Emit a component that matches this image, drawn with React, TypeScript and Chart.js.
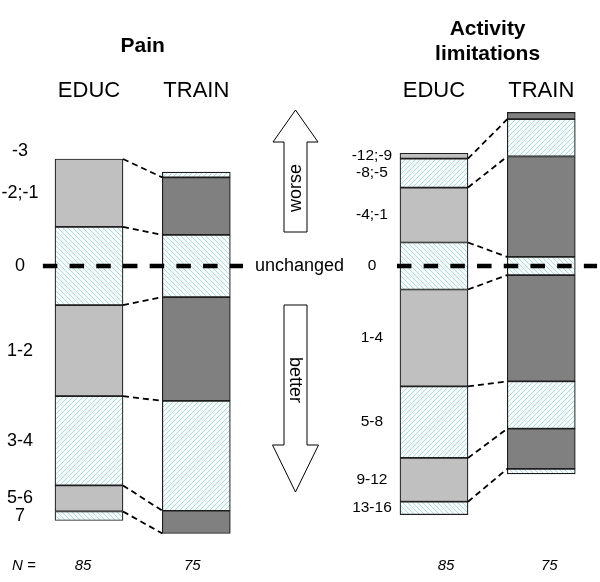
import React, { useEffect, useRef } from 'react';
import { Chart, registerables } from 'chart.js';

Chart.register(...registerables);

// ---------- data (percent of each group) ----------
const painCategories = ['-3', '-2;-1', '0', '1-2', '3-4', '5-6', '7'];
const painEducPct = [0, 18.8, 21.6, 25.2, 24.7, 7.2, 2.5];
const painTrainPct = [1.5, 15.9, 17.2, 28.7, 30.4, 6.3, 0];

const activityCategories = ['-12;-9', '-8;-5', '-4;-1', '0', '1-4', '5-8', '9-12', '13-16'];
const activityEducPct = [1.5, 8.0, 15.2, 13.0, 26.8, 19.8, 12.1, 3.6];
const activityTrainPct = [1.9, 10.3, 27.8, 5.0, 29.4, 13.1, 11.1, 1.4];

const groupLabels = ['EDUC', 'TRAIN'];
const groupN = ['85', '75'];
const painTitle = ['Pain'];
const activityTitle = ['Activity', 'limitations'];
const unchangedLabel = 'unchanged';
const worseLabel = 'worse';
const betterLabel = 'better';
const nLabel = 'N =';
const zeroCategory = '0';

// ---------- layout / style ----------
const FONT = '"Liberation Sans", Arial, Helvetica, sans-serif';
const X_MIN = 0.1705;
const X_MAX = 5.7623;
const Y_MIN = -73.58;
const Y_MAX = 87.41;
const BAR_THICKNESS = 68;
const EDUC_COLOR = '#c0c0c0';
const TRAIN_COLOR = '#808080';
const BORDER = '#1e1e1e';

type Panel = {
  title: string[];
  titleY: number[];
  cats: string[];
  educ: number[];
  train: number[];
  x: number;
  labelDx: number;
  labelFont: number;
  zeroSpan: [number, number];
  nDx: [number, number];
};

const panels: Panel[] = [
  {
    title: painTitle, titleY: [46], cats: painCategories, educ: painEducPct, train: painTrainPct,
    x: 1, labelDx: -0.643, labelFont: 18, zeroSpan: [-0.43, 1.435], nDx: [-6, -4],
  },
  {
    title: activityTitle, titleY: [29, 54], cats: activityCategories, educ: activityEducPct, train: activityTrainPct,
    x: 4.215, labelDx: -0.578, labelFont: 15.5, zeroSpan: [-0.345, 1.52], nDx: [12, 8],
  },
];

function floatRanges(values: number[], cats: string[]): [number, number][] {
  const zi = cats.indexOf(zeroCategory);
  let before = 0;
  for (let i = 0; i < zi; i++) before += values[i];
  let start = -(before + values[zi] / 2);
  return values.map((v) => {
    const r: [number, number] = [start, start + v];
    start += v;
    return r;
  });
}

function makeHatch(dir: 1 | -1): CanvasPattern | string {
  const s = 5;
  const c = document.createElement('canvas');
  c.width = s;
  c.height = s;
  const g = c.getContext('2d');
  if (!g) return '#e6f2f2';
  g.fillStyle = '#f5fafa';
  g.fillRect(0, 0, s, s);
  g.strokeStyle = '#b2d9d9';
  g.lineWidth = 1;
  g.beginPath();
  for (let k = -1; k <= 1; k++) {
    if (dir === 1) {
      g.moveTo(k * s - 1, -1);
      g.lineTo(k * s + s + 1, s + 1);
    } else {
      g.moveTo(k * s - 1, s + 1);
      g.lineTo(k * s + s + 1, -1);
    }
  }
  g.stroke();
  const pat = g.createPattern(c, 'repeat');
  return pat || '#e6f2f2';
}

function drawArrow(
  ctx: CanvasRenderingContext2D, cx: number, tipY: number, headBaseY: number, tailY: number,
  headHalf: number, shaftHalf: number,
) {
  ctx.beginPath();
  ctx.moveTo(cx, tipY);
  ctx.lineTo(cx + headHalf, headBaseY);
  ctx.lineTo(cx + shaftHalf, headBaseY);
  ctx.lineTo(cx + shaftHalf, tailY);
  ctx.lineTo(cx - shaftHalf, tailY);
  ctx.lineTo(cx - shaftHalf, headBaseY);
  ctx.lineTo(cx - headHalf, headBaseY);
  ctx.closePath();
  ctx.fillStyle = '#ffffff';
  ctx.fill();
  ctx.lineWidth = 1;
  ctx.strokeStyle = '#000000';
  ctx.setLineDash([]);
  ctx.stroke();
}

const overlayPlugin = {
  id: 'overlay',
  afterDatasetsDraw(chart: any) {
    const ctx = chart.ctx as CanvasRenderingContext2D;
    const xs = chart.scales.x;
    const ys = chart.scales.y;
    ctx.save();
    panels.forEach((pn, p) => {
      const eBar = chart.getDatasetMeta(2 * p).data[0];
      const tBar = chart.getDatasetMeta(2 * p + 1).data[0];
      const eRight = eBar.x + eBar.width / 2;
      const tLeft = tBar.x - tBar.width / 2;
      const eR = floatRanges(pn.educ, pn.cats);
      const tR = floatRanges(pn.train, pn.cats);

      // connectors between category boundaries
      ctx.save();
      ctx.setLineDash([6, 4]);
      ctx.lineWidth = 1.8;
      ctx.strokeStyle = '#000000';
      for (let k = 1; k < pn.cats.length; k++) {
        ctx.beginPath();
        ctx.moveTo(eRight, ys.getPixelForValue(eR[k][0]));
        ctx.lineTo(tLeft, ys.getPixelForValue(tR[k][0]));
        ctx.stroke();
      }
      // zero line
      const y0 = ys.getPixelForValue(0);
      ctx.setLineDash([14.5, 12.2]);
      ctx.lineWidth = 4.5;
      ctx.beginPath();
      ctx.moveTo(xs.getPixelForValue(pn.x + pn.zeroSpan[0]), y0);
      ctx.lineTo(xs.getPixelForValue(pn.x + pn.zeroSpan[1]), y0);
      ctx.stroke();
      ctx.restore();

      // category labels
      ctx.fillStyle = '#000000';
      ctx.textAlign = 'center';
      ctx.textBaseline = 'middle';
      ctx.font = `${pn.labelFont}px ${FONT}`;
      const lx = xs.getPixelForValue(pn.x + pn.labelDx);
      pn.cats.forEach((c, i) => {
        const a = ys.getPixelForValue(eR[i][0]);
        const b = ys.getPixelForValue(eR[i][1]);
        let y = (a + b) / 2;
        if (Math.abs(b - a) < 1) y -= 8;
        ctx.fillText(c, lx, y);
      });

      // group labels and N
      const bars = [eBar, tBar];
      ctx.font = `22px ${FONT}`;
      bars.forEach((b, g) => ctx.fillText(groupLabels[g], b.x, 91));
      ctx.font = `italic 15px ${FONT}`;
      bars.forEach((b, g) => ctx.fillText(groupN[g], b.x + pn.nDx[g], 566));

      // title
      ctx.font = `bold 21px ${FONT}`;
      const cx = (eBar.x + tBar.x) / 2;
      pn.title.forEach((t, i) => ctx.fillText(t, cx, pn.titleY[i]));
    });

    // N =
    ctx.font = `italic 15px ${FONT}`;
    ctx.textAlign = 'left';
    ctx.fillText(nLabel, 12, 566);

    // unchanged
    ctx.font = `18px ${FONT}`;
    ctx.fillText(unchangedLabel, 255, ys.getPixelForValue(0));

    // arrows
    drawArrow(ctx, 295.5, 110, 142, 232, 22.5, 11.5);
    drawArrow(ctx, 295.5, 492, 445, 305, 23, 11.5);
    ctx.fillStyle = '#000000';
    ctx.textAlign = 'center';
    ctx.textBaseline = 'middle';
    ctx.font = `18px ${FONT}`;
    ctx.save();
    ctx.translate(296.5, 188);
    ctx.rotate(-Math.PI / 2);
    ctx.fillText(worseLabel, 0, 0);
    ctx.restore();
    ctx.save();
    ctx.translate(295, 380);
    ctx.rotate(Math.PI / 2);
    ctx.fillText(betterLabel, 0, 0);
    ctx.restore();

    ctx.restore();
  },
};

export default function App() {
  const ref = useRef<HTMLCanvasElement | null>(null);
  useEffect(() => {
    if (!ref.current) return;
    const hatchA = makeHatch(-1);
    const hatchB = makeHatch(1);
    const datasets: any[] = [];
    panels.forEach((pn) => {
      const zi = pn.cats.indexOf(zeroCategory);
      const hatchedFor = (i: number) => (Math.abs(i - zi) % 2 === 0);
      let order = 0;
      const hatchList = pn.cats.map((_, i) => {
        if (!hatchedFor(i)) return null;
        const h = order % 2 === 0 ? hatchA : hatchB;
        order++;
        return h;
      });
      [pn.educ, pn.train].forEach((vals, g) => {
        const ranges = floatRanges(vals, pn.cats);
        datasets.push({
          label: `${pn.title.join(' ')} ${groupLabels[g]}`,
          data: ranges.map((r) => ({ x: pn.x + g, y: r })),
          backgroundColor: pn.cats.map((_, i) => hatchList[i] || (g === 0 ? EDUC_COLOR : TRAIN_COLOR)),
          borderColor: BORDER,
          borderWidth: 1.2,
          borderSkipped: false,
          barThickness: BAR_THICKNESS,
          grouped: false,
        });
      });
    });
    const chart = new Chart(ref.current, {
      type: 'bar',
      data: { datasets },
      options: {
        animation: false,
        responsive: false,
        devicePixelRatio: 1,
        layout: { padding: 0 },
        plugins: { legend: { display: false }, tooltip: { enabled: false }, title: { display: false } },
        scales: {
          x: { type: 'linear', display: false, min: X_MIN, max: X_MAX, offset: false, bounds: 'data', grid: { offset: false } },
          y: { type: 'linear', display: false, min: Y_MIN, max: Y_MAX, reverse: true, bounds: 'data', beginAtZero: false },
        },
      } as any,
      plugins: [overlayPlugin],
    });
    return () => chart.destroy();
  }, []);
  return (
    <div style={{ position: 'absolute', left: 0, top: 0, width: 600, height: 582, background: '#fff' }}>
      <canvas ref={ref} width={600} height={582} style={{ display: 'block' }} />
    </div>
  );
}
